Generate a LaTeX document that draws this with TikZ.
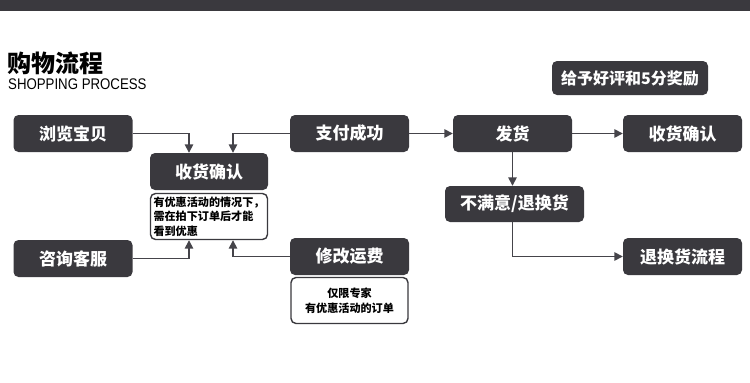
\documentclass[tikz,border=0pt]{standalone}
\usepackage{fontspec}
\newfontfamily\cjk{Noto Sans CJK SC}
\newfontfamily\condsans[FakeStretch=0.86]{Liberation Sans}
\usetikzlibrary{arrows.meta}
\definecolor{boxgray}{HTML}{3A393E}
\definecolor{linegray}{HTML}{45444A}

\begin{document}
\begin{tikzpicture}[x=1pt, y=-1pt, box/.style={fill=boxgray, rounded corners=5pt, text=white, font=\cjk\bfseries\fontsize{17}{17}\selectfont, minimum width=119pt, minimum height=37pt, inner sep=0pt}, note/.style={draw=boxgray, line width=1.4pt, fill=white, rounded corners=5pt, text=black, font=\cjk\bfseries\fontsize{11.1}{14.5}\selectfont, minimum width=117pt, minimum height=46pt, inner sep=0pt}, flow/.style={-{Triangle[length=8.5pt, width=8.5pt]}, line width=1.5pt, draw=linegray}]

\useasboundingbox (0,0) rectangle (750,383);
\fill[boxgray] (0,0) rectangle (750,11);
\node[anchor=base west, inner sep=0pt, font=\cjk\bfseries\fontsize{24}{24}\selectfont] (title) at (7,72) {购物流程};
\node[anchor=base west, inner sep=0pt, font=\condsans\fontsize{15.4}{15.4}\selectfont] (subtitle) at (8,89) {SHOPPING PROCESS};
\node[box, minimum width=156pt, minimum height=34pt, font=\cjk\bfseries\fontsize{16}{16}\selectfont] (reward) at (630,78) {给予好评和5分奖励};

\node[box] (browse) at (73,133.5) {浏览宝贝}; \node[box] (consult) at (73,258.5) {咨询客服};
\node[box, minimum width=118pt] (confirmL) at (209,171.5) {收货确认};
\node[note, align=left] (noteL) at (209,216.5) {有优惠活动的情况下，\\需在拍下订单后才能\\看到优惠};
\node[box] (paid) at (349.5,133.5) {支付成功}; \node[box] (modify) at (349.5,256.5) {修改运费};
\node[note, align=center] (noteR) at (349.5,300.5) {仅限专家\\有优惠活动的订单};
\node[box] (ship) at (512.5,133.5) {发货}; \node[box] (confirmR) at (682.5,133.5) {收货确认};
\node[box, minimum width=139pt, minimum height=36pt] (unsat) at (514.5,204) {不满意/退换货};
\node[box] (returns) at (682.5,256.5) {退换货流程};

\draw[flow] (browse.east) -| ([xshift=-20pt]confirmL.north); \draw[flow] (paid.west) -| ([xshift=24pt]confirmL.north);
\draw[flow] (consult.east) -| ([xshift=-20pt]noteL.south); \draw[flow] (modify.west) -| ([xshift=24pt]noteL.south);
\draw[flow] (paid.east) -- (ship.west); \draw[flow] (ship.east) -- (confirmR.west);
\draw[flow] (ship.south) -- (ship.south |- unsat.north); \draw[flow] (unsat.south -| ship.south) |- (returns.west);
\end{tikzpicture}
\end{document}
